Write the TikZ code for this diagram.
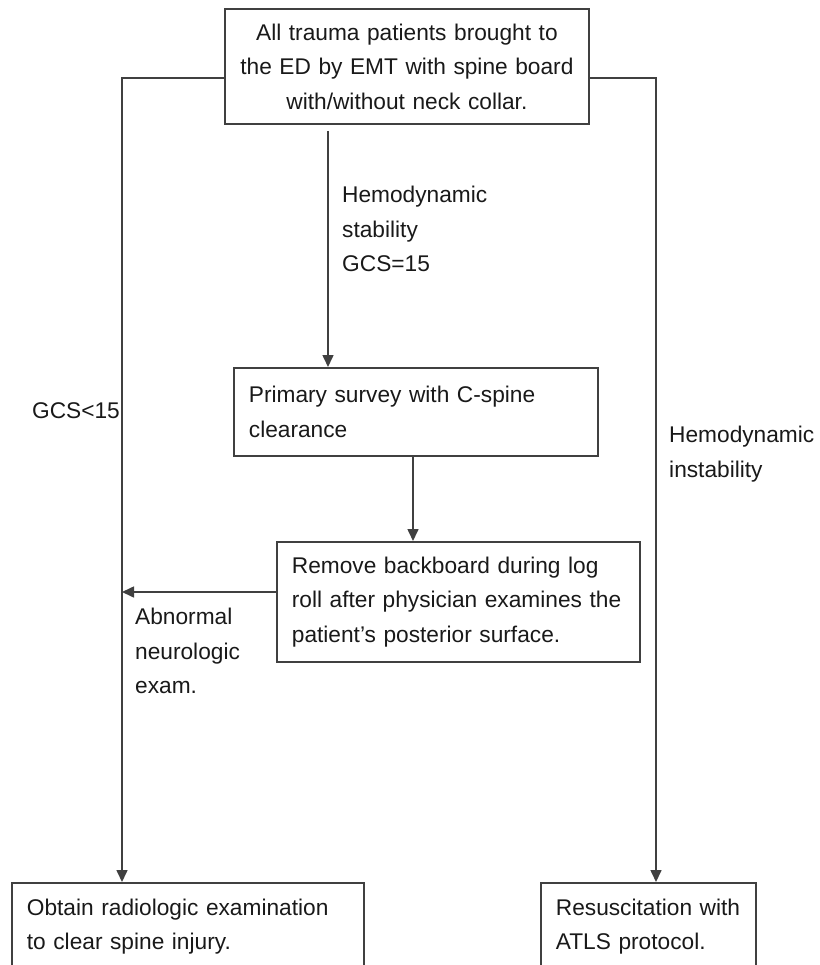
\documentclass[tikz,border=0pt]{standalone}
\usepackage{fontspec}
\setmainfont{Liberation Sans}
\usetikzlibrary{arrows.meta, positioning}
\colorlet{linegray}{black!75}
\colorlet{inkgray}{black!90}
\tikzset{
  box/.style={draw=linegray, line width=1.8pt, text=inkgray, inner xsep=15pt, inner ysep=0pt,
      align=left, anchor=north west},
  arr/.style={draw=linegray, line width=1.6pt, -{Triangle[length=12pt, width=11pt]}},
  lbl/.style={text=inkgray, inner sep=0pt, align=left},
}

\begin{document}
\begin{tikzpicture}[x=1pt, y=-1pt, font=\fontsize{22.7}{34.5}\selectfont]
  \useasboundingbox (0,0) rectangle (819,965);
  % boxes
  \node[box, align=center, text width=334pt, minimum height=115pt] (top) at (224,8)
    {All trauma patients brought to\\the ED by EMT with spine board\\with/without neck collar.};
  \node[box, text width=334pt, minimum height=88pt] (prim) at (233,367)
    {Primary survey with C-spine\\clearance};
  \node[box, text width=333pt, minimum height=120pt] (rem) at (276,541)
    {Remove backboard during log\\roll after physician examines the\\patient’s posterior surface.};
  \node[box, text width=322pt, minimum height=87pt] (obt) at (11,882)
    {Obtain radiologic examination\\to clear spine injury.};
  \node[box, text width=185pt, minimum height=87pt] (res) at (540,882)
    {Resuscitation with\\ATLS protocol.};
  % turning points
  \coordinate (xl) at (122,78);
  \coordinate (xr) at (656,78);
  \coordinate (xa) at (328,0);
  \coordinate (xm) at (413,0);
  \coordinate (ya) at (122,592);
  % connectors
  \draw[arr] ([yshift=-6pt]top.south -| xa) -- (prim.north -| xa);
  \draw[arr] (prim.south -| xm) -- (rem.north -| xm);
  \draw[arr] (top.west |- xl) -- (xl) -- (obt.north -| xl);
  \draw[arr] (top.east |- xr) -- (xr) -- (res.north -| xr);
  \draw[arr] (rem.west |- ya) -- (ya);
  % labels
  \node[lbl, anchor=west] (stab) at (342,229) {Hemodynamic\\stability\\GCS=15};
  \node[lbl, anchor=east] (gcs) at (120,411) {GCS<15};
  \node[lbl, anchor=west] (instab) at (669,454) {Hemodynamic\\instability};
  \node[lbl, anchor=west] (abn) at (135,651) {Abnormal\\neurologic\\exam.};
\end{tikzpicture}
\end{document}
